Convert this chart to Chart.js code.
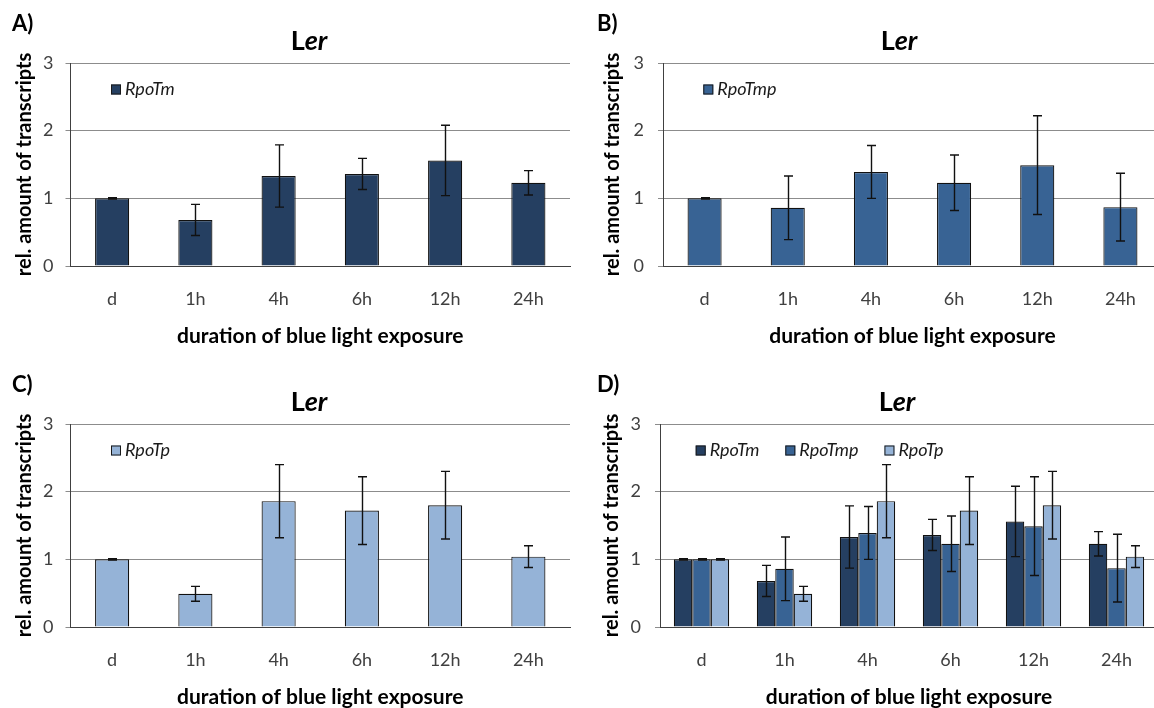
<!DOCTYPE html>
<html>
<head>
<meta charset="utf-8">
<script src="https://cdn.jsdelivr.net/npm/chart.js@4"></script>
<style>
  html, body { margin: 0; padding: 0; background: #fff; }
  #wrap { position: relative; width: 1154px; height: 708px; overflow: hidden; background: #fff; }
  canvas { position: absolute; }
  .tag { position: absolute; font: bold 22px Lato, sans-serif; color: #000; }
</style>
</head>
<body>
<div id="wrap">
  <canvas id="chartA" width="577" height="354" style="left:0;top:0"></canvas>
  <canvas id="chartB" width="590" height="354" style="left:577px;top:0"></canvas>
  <canvas id="chartC" width="577" height="354" style="left:0;top:361px"></canvas>
  <canvas id="chartD" width="590" height="354" style="left:577px;top:361px"></canvas>
  <div class="tag" style="left:12px;top:9px">A)</div>
  <div class="tag" style="left:597px;top:9px">B)</div>
  <div class="tag" style="left:12px;top:370px">C)</div>
  <div class="tag" style="left:597px;top:370px">D)</div>
</div>
<script>
// Sampling times after transfer from darkness (d) to blue light
const categories = ['d', '1h', '4h', '6h', '12h', '24h'];
const yTicks = [0, 1, 2, 3];

// Relative transcript amounts (mean) and error bar half-widths
const rpoTm     = [1.00, 0.68, 1.33, 1.36, 1.56, 1.23];
const rpoTmErr  = [0.01, 0.23, 0.46, 0.23, 0.52, 0.18];
const rpoTmp    = [1.00, 0.86, 1.39, 1.23, 1.49, 0.87];
const rpoTmpErr = [0.01, 0.47, 0.39, 0.41, 0.73, 0.50];
const rpoTp     = [1.00, 0.49, 1.86, 1.72, 1.80, 1.04];
const rpoTpErr  = [0.01, 0.11, 0.54, 0.50, 0.50, 0.16];

const COLORS = { RpoTm: '#253f61', RpoTmp: '#386394', RpoTp: '#95b3d7' };
const FONT = 'Lato, "Open Sans", sans-serif';

// Vertical error bars with caps, drawn on top of each bar
const errorBars = {
  id: 'errorBars',
  afterDatasetsDraw(chart) {
    const ctx = chart.ctx, y = chart.scales.y;
    chart.data.datasets.forEach((ds, i) => {
      if (!ds.errors) return;
      chart.getDatasetMeta(i).data.forEach((bar, j) => {
        const v = ds.data[j], e = ds.errors[j];
        const top = y.getPixelForValue(v + e), bot = y.getPixelForValue(v - e);
        const x = Math.round(bar.x) + 0.5, cap = 4.5;
        ctx.save();
        ctx.strokeStyle = '#111';
        ctx.lineWidth = 1.4;
        ctx.beginPath();
        ctx.moveTo(x, top); ctx.lineTo(x, bot);
        ctx.moveTo(x - cap, top); ctx.lineTo(x + cap, top);
        ctx.moveTo(x - cap, bot); ctx.lineTo(x + cap, bot);
        ctx.stroke();
        ctx.restore();
      });
    });
  }
};

// Panel heading "Ler": upright L, italic "er"
const lerTitle = {
  id: 'lerTitle',
  afterDraw(chart, args, opts) {
    const ctx = chart.ctx;
    const upright = 'bold 27px ' + FONT, slanted = 'italic bold 27px ' + FONT;
    ctx.save();
    ctx.fillStyle = '#000';
    ctx.textBaseline = 'middle';
    ctx.textAlign = 'left';
    ctx.font = upright;
    const wL = ctx.measureText('L').width;
    ctx.font = slanted;
    const wEr = ctx.measureText('er').width;
    const x = opts.x - (wL + wEr) / 2;
    ctx.font = upright;
    ctx.fillText('L', x, opts.y);
    ctx.font = slanted;
    ctx.fillText('er', x + wL, opts.y);
    ctx.restore();
  }
};

// Legend inside the plot area, top-left, one row
const innerLegend = {
  id: 'innerLegend',
  afterDraw(chart, args, opts) {
    const ctx = chart.ctx, area = chart.chartArea;
    let x = area.left + opts.offsetX;
    const yMid = area.top + opts.offsetY;
    ctx.save();
    ctx.font = 'italic 18px ' + FONT;
    ctx.textBaseline = 'middle';
    ctx.textAlign = 'left';
    chart.data.datasets.forEach(ds => {
      ctx.fillStyle = ds.backgroundColor;
      ctx.fillRect(x, yMid - 5, 10, 10);
      ctx.strokeStyle = '#1a1a1a';
      ctx.lineWidth = 1;
      ctx.strokeRect(x + 0.5, yMid - 4.5, 9, 9);
      ctx.fillStyle = '#1a1a1a';
      ctx.fillText(ds.label, x + 14, yMid);
      x += 14 + ctx.measureText(ds.label).width + 26;
    });
    ctx.restore();
  }
};

function makeDataset(name, values, errors, barPct) {
  return {
    label: name,
    data: values,
    errors: errors,
    backgroundColor: COLORS[name],
    borderColor: '#111',
    borderWidth: 1.2,
    barPercentage: barPct,
    categoryPercentage: barPct === 1 ? 0.667 : 1
  };
}

function makeChart(id, datasets, geo) {
  return new Chart(document.getElementById(id), {
    type: 'bar',
    data: { labels: categories, datasets: datasets },
    options: {
      responsive: false,
      animation: false,
      devicePixelRatio: 1,
      layout: { padding: { top: 63, right: geo.padRight, bottom: 0, left: 0 } },
      plugins: {
        legend: { display: false },
        tooltip: { enabled: false },
        lerTitle: { x: geo.titleX, y: 41 },
        innerLegend: { offsetX: geo.legendX, offsetY: 26.5 }
      },
      scales: {
        x: {
          grid: { display: false },
          border: { display: true, color: '#404040', width: 1 },
          ticks: { padding: 14, color: '#404040', font: { family: FONT, size: 18 } },
          title: {
            display: true, text: 'duration of blue light exposure', color: '#000',
            font: { family: FONT, size: 21, weight: 'bold' }, padding: { top: 0, bottom: 5.5 }
          },
          afterFit: axis => { axis.height = 354 - 266; }
        },
        y: {
          min: 0, max: 3,
          afterBuildTicks: axis => { axis.ticks = yTicks.map(v => ({ value: v })); },
          grid: { color: '#8c8c8c', lineWidth: 1, drawTicks: true, tickLength: 5, tickColor: '#8c8c8c' },
          border: { display: true, color: '#404040', width: 1 },
          ticks: { padding: geo.tickPad, color: '#404040', font: { family: FONT, size: 18 } },
          title: {
            display: true, text: 'rel. amount of transcripts', color: '#000',
            font: { family: FONT, size: 20, weight: 'bold' }, padding: { top: geo.yTitlePad, bottom: 0 }
          },
          afterFit: axis => { axis.width = geo.yWidth; }
        }
      }
    },
    plugins: [errorBars, lerTitle, innerLegend]
  });
}

const geoLeft = { yWidth: 70.5, padRight: 7, tickPad: 12, yTitlePad: 13, titleX: 309, legendX: 40.5 };

makeChart('chartA', [makeDataset('RpoTm', rpoTm, rpoTmErr, 0.41)], geoLeft);
makeChart('chartB', [makeDataset('RpoTmp', rpoTmp, rpoTmpErr, 0.41)],
  { yWidth: 86, padRight: 5, tickPad: 14, yTitlePad: 24, titleX: 322, legendX: 40.3 });
makeChart('chartC', [makeDataset('RpoTp', rpoTp, rpoTpErr, 0.41)], geoLeft);
makeChart('chartD', [
  makeDataset('RpoTm', rpoTm, rpoTmErr, 1),
  makeDataset('RpoTmp', rpoTmp, rpoTmpErr, 1),
  makeDataset('RpoTp', rpoTp, rpoTpErr, 1)
], { yWidth: 83, padRight: 9, tickPad: 14, yTitlePad: 23, titleX: 320, legendX: 35.7 });
</script>
</body>
</html>
